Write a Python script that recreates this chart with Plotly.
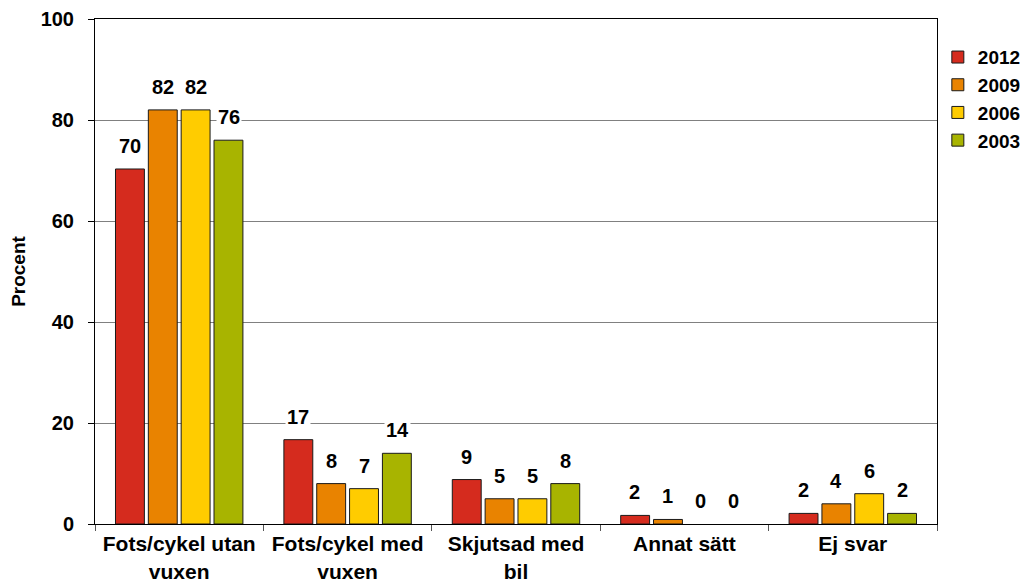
import plotly.graph_objects as go

categories = ["Fots/cykel utan<br>vuxen", "Fots/cykel med<br>vuxen", "Skjutsad med<br>bil", "Annat sätt", "Ej svar"]
years = ["2012", "2009", "2006", "2003"]
values_2012 = [70.3, 16.7, 8.8, 1.7, 2.1]
values_2009 = [82.0, 8.0, 5.0, 0.9, 4.0]
values_2006 = [82.0, 7.0, 5.0, 0.0, 6.0]
values_2003 = [76.0, 14.0, 8.0, 0.0, 2.1]
labels_2012 = ["70", "17", "9", "2", "2"]
labels_2009 = ["82", "8", "5", "1", "4"]
labels_2006 = ["82", "7", "5", "0", "6"]
labels_2003 = ["76", "14", "8", "0", "2"]
colors = ["#D52B1E", "#E98300", "#FFCC00", "#A8B400"]

series = [values_2012, values_2009, values_2006, values_2003]
labels = [labels_2012, labels_2009, labels_2006, labels_2003]

FONT = "Liberation Sans, Arial, sans-serif"

fig = go.Figure()
for yr, vals, col in zip(years, series, colors):
    fig.add_trace(go.Bar(
        x=categories, y=vals, name="<b>%s</b>" % yr,
        marker=dict(color=col, line=dict(color="#1a1a1a",
                                         width=[1 if v > 0 else 0 for v in vals])),
    ))

annotations = []
step = 33
for i, (vals, labs) in enumerate(zip(series, labels)):
    for c, v, t in zip(categories, vals, labs):
        annotations.append(dict(
            x=c, y=v, xref="x", yref="y", text="<b>%s</b>" % t,
            showarrow=False, xshift=(i - 1.5) * step, yshift=23,
            yanchor="middle", xanchor="center",
            bgcolor="white", borderpad=1,
            font=dict(family=FONT, size=20, color="black"),
        ))

fig.update_layout(
    width=1021, height=573,
    margin=dict(l=87, r=92, t=11, b=57, autoexpand=False),
    paper_bgcolor="white", plot_bgcolor="white",
    barmode="group", bargap=0.22, bargroupgap=0.12,
    font=dict(family=FONT, color="black"),
    annotations=annotations,
    showlegend=True,
    legend=dict(
        x=1.001, xanchor="left", y=0.962, yanchor="top",
        font=dict(family=FONT, size=19, color="black"),
        tracegroupgap=0, bgcolor="rgba(0,0,0,0)",
    ),
    xaxis=dict(
        showline=True, linecolor="black", linewidth=1, mirror=True,
        ticks="outside", tickson="boundaries", ticklen=6, tickcolor="#555",
        tickfont=dict(family=FONT, size=21, color="black"),
        ticklabelstandoff=1,
        showgrid=False,
        tickprefix="<b>", ticksuffix="</b>",
    ),
    yaxis=dict(
        range=[0, 100], dtick=20,
        showline=True, linecolor="black", linewidth=1, mirror=True,
        ticks="outside", ticklen=6, tickcolor="black",
        tickfont=dict(family=FONT, size=20, color="black"),
        ticklabelstandoff=10,
        tickprefix="<b>", ticksuffix="</b>",
        showgrid=True, gridcolor="#808080", gridwidth=1,
        zeroline=False,
        title=dict(text="<b>Procent</b>", font=dict(family=FONT, size=19, color="black"), standoff=9),
    ),
)

fig.write_html("out.html")
